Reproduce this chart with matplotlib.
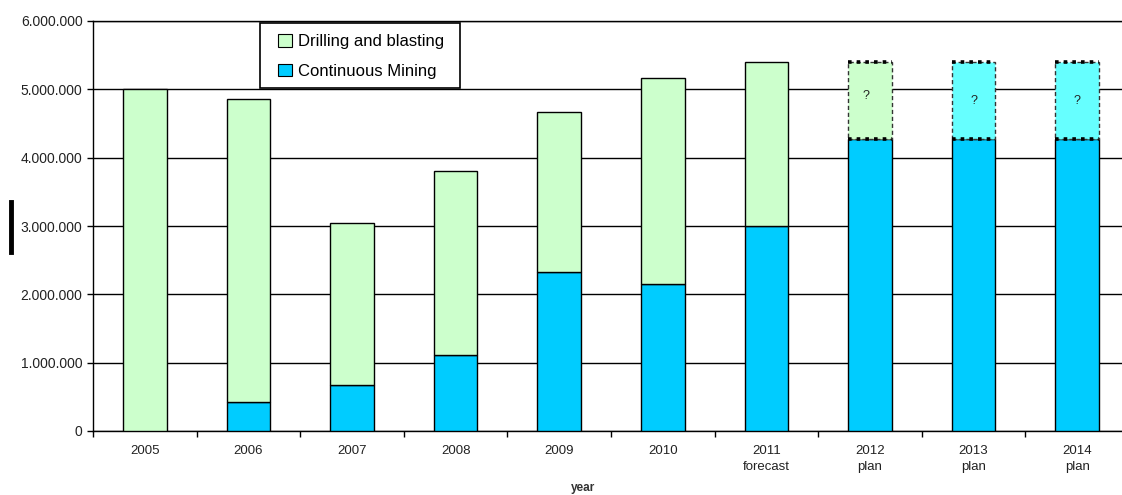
import matplotlib
matplotlib.use("Agg")
import matplotlib.pyplot as plt
from matplotlib.lines import Line2D
from matplotlib.patches import Patch, Rectangle
from matplotlib.ticker import FuncFormatter, FixedLocator

plt.rcParams["font.family"] = ["Liberation Sans", "DejaVu Sans"]

years = ["2005", "2006", "2007", "2008", "2009", "2010", "2011", "2012", "2013", "2014"]
sublabels = ["", "", "", "", "", "", "forecast", "plan", "plan", "plan"]
continuous = [0, 420000, 670000, 1110000, 2330000, 2150000, 3000000, 4270000, 4270000, 4270000]
totals = [5000000, 4860000, 3040000, 3800000, 4670000, 5170000, 5400000, 5400000, 5400000, 5400000]
is_plan = [False, False, False, False, False, False, False, True, True, True]
plan_top_colors = ["#CCFFCC", "#66FFFF", "#66FFFF"]

green = "#CCFFCC"
blue = "#00CCFF"

W, H = 1122, 495
fig = plt.figure(figsize=(W / 100, H / 100), dpi=100)
# plot area runs a little past the right edge of the picture
ax = fig.add_axes([93 / W, 64 / H, 1036 / W, 410 / H])

x = list(range(len(years)))
w = 0.42
drilling = [t - c for t, c in zip(totals, continuous)]

ax.bar(x, continuous, w, color=blue, edgecolor="black", linewidth=1, zorder=3)
for i in x:
    if not is_plan[i]:
        ax.bar(i, drilling[i], w, bottom=continuous[i], color=green,
               edgecolor="black", linewidth=1, zorder=3)

# uncertain plan parts
k = 0
for i in x:
    if is_plan[i]:
        ax.bar(i, drilling[i], w, bottom=continuous[i], color=plan_top_colors[k],
               edgecolor="#333333", linewidth=1, linestyle=(0, (3, 2)), zorder=3)
        for yv in (continuous[i], totals[i]):
            ax.plot([i - w / 2, i + w / 2], [yv, yv], color="black", lw=2.6,
                    linestyle=(0, (1, 1.4)), solid_capstyle="butt", zorder=4)
        ax.text(i - 0.04 if k == 0 else i, continuous[i] + drilling[i] * (0.56 if k == 0 else 0.5), "?",
                ha="center", va="center", fontsize=9, color="#222222", zorder=5)
        k += 1

ax.set_ylim(0, 6000000)
ax.set_xlim(-0.5, len(years) - 0.5)
ax.set_yticks(range(0, 6000001, 1000000))
ax.yaxis.set_major_formatter(FuncFormatter(lambda v, p: f"{int(v):,}".replace(",", ".")))
ax.grid(axis="y", color="black", linewidth=1, zorder=0)
ax.set_axisbelow(True)

ax.set_xticks(x)
ax.set_xticklabels([y + ("\n" + s if s else "") for y, s in zip(years, sublabels)],
                   fontsize=9.5, color="#222222", linespacing=1.5)
ax.xaxis.set_minor_locator(FixedLocator([i - 0.5 for i in range(len(years) + 1)]))
ax.tick_params(axis="x", which="major", length=0, pad=10)
ax.tick_params(axis="x", which="minor", length=4, width=1)
ax.tick_params(axis="y", length=4, width=1, labelsize=10, labelcolor="#222222")

ax.spines["right"].set_visible(False)
for s in ("top", "left", "bottom"):
    ax.spines[s].set_linewidth(1)

fig.text(583 / W, 1 / H, "year", ha="center", va="bottom", fontsize=8.5,
         fontweight="bold", color="#333333")

# small black mark left of the axis
fig.add_artist(Line2D([11 / W, 11 / W], [1 - 202 / H, 1 - 252 / H],
                      color="black", lw=3.5))

handles = [Patch(facecolor=green, edgecolor="black", linewidth=0.8),
           Patch(facecolor=blue, edgecolor="black", linewidth=0.8)]
leg = fig.legend(handles, ["Drilling and blasting", "Continuous Mining"],
                 loc="upper left", bbox_to_anchor=(269 / W, 1 - 25 / H),
                 bbox_transform=fig.transFigure, borderaxespad=0, fontsize=12,
                 frameon=False, handlelength=0.8, handleheight=0.8,
                 handletextpad=0.4, labelspacing=0.85, borderpad=0.55)
leg.set_zorder(10)
fig.add_artist(Rectangle((260 / W, 1 - 88 / H), 200 / W, 65 / H,
                         transform=fig.transFigure, facecolor="white",
                         edgecolor="black", linewidth=1.2, zorder=9))

fig.savefig("out.png", dpi=100)
